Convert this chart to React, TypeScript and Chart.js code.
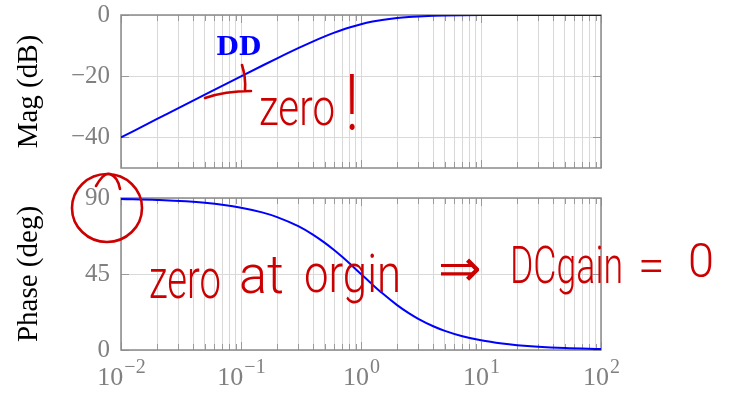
import React, { useEffect, useRef } from 'react';
import { Chart, registerables } from 'chart.js';

Chart.register(...registerables);

// ---- data ----
const freq = [0.01, 0.02, 0.05, 0.1, 0.15, 0.2, 0.3, 0.4, 0.5, 0.6, 0.7, 0.8, 1, 1.25, 1.5, 2, 2.5, 3, 4, 5, 7, 10, 15, 20, 30, 50, 100];
const magDb = [-40.0, -33.98, -26.03, -20.04, -16.58, -14.15, -10.83, -8.6, -6.99, -5.77, -4.83, -4.09, -3.01, -2.15, -1.6, -0.97, -0.64, -0.46, -0.26, -0.17, -0.09, -0.04, -0.02, -0.01, -0.005, -0.002, 0.0];
const phaseDeg = [89.43, 88.85, 87.14, 84.29, 81.47, 78.69, 73.3, 68.2, 63.43, 59.04, 55.01, 51.34, 45.0, 38.66, 33.69, 26.57, 21.8, 18.43, 14.04, 11.31, 8.13, 5.71, 3.81, 2.86, 1.91, 1.15, 0.57];
const magTicks = [-40, -20, 0];
const phaseTicks = [0, 45, 90];
const decades = [0.01, 0.1, 1, 10, 100];
const decadeExponents = ['−2', '−1', '0', '1', '2'];
const minorMultipliers = [1, 2, 3, 4, 5, 6, 7, 8, 9];
const seriesLabel = 'DD';
const magTitle = 'Mag (dB)';
const phaseTitle = 'Phase (deg)';
const noteTop = ['zero', '!'];
const noteBottom = ['zero', 'at', 'orgin', '⇒', 'DCgain', '=', '0'];

const W = 733;
const H = 393;
const PLOT_LEFT = 121;
const PLOT_RIGHT = 601;
const BLUE = '#0000ff';
const GRAY_TXT = '#808080';
const RED = '#cc0000';
const SERIF = "'Liberation Serif', serif";
const HAND = "Roboto, 'Noto Sans', sans-serif";

function buildXTicks(scale: any) {
  const ticks: any[] = [];
  for (let d = 0; d < decades.length - 1; d++) {
    for (const m of minorMultipliers) {
      ticks.push({ value: m * decades[d], major: m === 1 });
    }
  }
  ticks.push({ value: decades[decades.length - 1], major: true });
  scale.ticks = ticks;
}

const framePlugin = {
  id: 'frame',
  beforeDatasetsDraw(chart: any) {
    const { ctx, chartArea: a, scales } = chart;
    const xs = scales.x;
    const ys = scales.y;
    ctx.save();
    ctx.strokeStyle = '#9a9a9a';
    ctx.lineWidth = 1;
    ctx.beginPath();
    xs.ticks.forEach((t: any) => {
      const px = Math.round(xs.getPixelForValue(t.value)) + 0.5;
      const L = t.major ? 8 : 6;
      ctx.moveTo(px, a.top);
      ctx.lineTo(px, a.top + L);
      ctx.moveTo(px, a.bottom);
      ctx.lineTo(px, a.bottom - L);
    });
    ys.ticks.forEach((t: any) => {
      const py = Math.round(ys.getPixelForValue(t.value)) + 0.5;
      ctx.moveTo(a.left, py);
      ctx.lineTo(a.left + 8, py);
      ctx.moveTo(a.right, py);
      ctx.lineTo(a.right - 8, py);
    });
    ctx.stroke();
    ctx.strokeStyle = '#8a8a8a';
    ctx.lineWidth = 1.5;
    ctx.strokeRect(a.left, a.top, a.right - a.left, a.bottom - a.top);
    ctx.restore();
  },
};

const xLabelPlugin = {
  id: 'xlabels',
  afterDraw(chart: any) {
    const { ctx, scales } = chart;
    const xs = scales.x;
    ctx.save();
    ctx.fillStyle = GRAY_TXT;
    ctx.textBaseline = 'alphabetic';
    ctx.textAlign = 'left';
    decades.forEach((d, i) => {
      const px = xs.getPixelForValue(d);
      ctx.font = `26px ${SERIF}`;
      const w1 = ctx.measureText('10').width;
      ctx.font = `20px ${SERIF}`;
      const w2 = ctx.measureText(decadeExponents[i]).width;
      const x0 = px - (w1 + w2) / 2;
      ctx.font = `26px ${SERIF}`;
      ctx.fillText('10', x0, 385);
      ctx.font = `20px ${SERIF}`;
      ctx.fillText(decadeExponents[i], x0 + w1 + 1, 373);
    });
    ctx.restore();
  },
};

const labelPlugin = {
  id: 'seriesLabel',
  afterDraw(chart: any) {
    const { ctx } = chart;
    ctx.save();
    ctx.fillStyle = BLUE;
    ctx.font = `bold 26px 'DejaVu Serif', serif`;
    ctx.textBaseline = 'alphabetic';
    ctx.fillText(seriesLabel, 216, 55, 50);
    ctx.restore();
  },
};

function hand(ctx: CanvasRenderingContext2D, text: string, x: number, y: number, size: number, maxW: number, family = HAND) {
  ctx.font = `300 ${size}px ${family}`;
  ctx.fillText(text, x, y, maxW);
}

const notesPlugin = {
  id: 'notes',
  afterDraw(chart: any) {
    const { ctx } = chart;
    ctx.save();
    ctx.fillStyle = RED;
    ctx.strokeStyle = RED;
    ctx.lineWidth = 2.6;
    ctx.lineCap = 'round';
    ctx.lineJoin = 'round';
    ctx.textAlign = 'left';
    ctx.textBaseline = 'alphabetic';
    // top note
    hand(ctx, noteTop[0], 259, 125, 52, 76);
    hand(ctx, noteTop[1], 345, 130, 78, 14);
    // arrow stroke
    ctx.beginPath();
    ctx.moveTo(242, 65);
    ctx.quadraticCurveTo(246, 78, 245, 90);
    ctx.moveTo(205, 98);
    ctx.quadraticCurveTo(225, 91, 251, 91);
    ctx.stroke();
    // circle round 90
    ctx.beginPath();
    ctx.ellipse(107, 208, 35, 34, 0, 0, Math.PI * 2);
    ctx.stroke();
    ctx.beginPath();
    ctx.moveTo(96, 186);
    ctx.quadraticCurveTo(104, 172, 110, 174);
    ctx.quadraticCurveTo(118, 177, 120, 189);
    ctx.stroke();
    // bottom note
    hand(ctx, noteBottom[0], 149, 298, 56, 72);
    hand(ctx, noteBottom[1], 239, 293, 54, 45);
    hand(ctx, noteBottom[2], 304, 292, 54, 97);
    ctx.textBaseline = 'middle';
    hand(ctx, noteBottom[3], 438, 272, 52, 54, "'DejaVu Sans', sans-serif");
    ctx.textBaseline = 'alphabetic';
    hand(ctx, noteBottom[4], 510, 283, 52, 113);
    ctx.textBaseline = 'middle';
    hand(ctx, noteBottom[5], 638, 270, 48, 30);
    ctx.textBaseline = 'alphabetic';
    hand(ctx, noteBottom[6], 688, 277, 48, 26);
    ctx.restore();
  },
};

function makeConfig(values: number[], yMin: number, yMax: number, yTicks: number[], title: string, top: number, bottom: number, extraPlugins: any[], xHeight: number) {
  return {
    type: 'line' as const,
    data: {
      datasets: [
        {
          label: seriesLabel,
          data: freq.map((f, i) => ({ x: f, y: values[i] })),
          borderColor: BLUE,
          borderWidth: 2,
          pointRadius: 0,
          fill: false,
          cubicInterpolationMode: 'monotone' as const,
        },
      ],
    },
    options: {
      animation: false as const,
      responsive: false,
      devicePixelRatio: 1,
      layout: { padding: { left: 0, right: W - PLOT_RIGHT, top, bottom } },
      plugins: { legend: { display: false }, tooltip: { enabled: false } },
      scales: {
        x: {
          type: 'logarithmic' as const,
          min: 0.01,
          max: 100,
          afterBuildTicks: buildXTicks,
          afterFit: (s: any) => {
            s.height = xHeight;
            s.paddingLeft = 0;
            s.paddingRight = 0;
            s.paddingTop = 0;
            s.paddingBottom = 0;
          },
          ticks: { display: false, autoSkip: false },
          grid: { color: '#d9d9d9', lineWidth: 1, drawTicks: false },
          border: { display: false },
        },
        y: {
          type: 'linear' as const,
          min: yMin,
          max: yMax,
          afterBuildTicks: (s: any) => {
            s.ticks = yTicks.map((v) => ({ value: v }));
          },
          afterFit: (s: any) => {
            s.width = PLOT_LEFT;
            s.paddingTop = 0;
            s.paddingBottom = 0;
            s.paddingLeft = 0;
            s.paddingRight = 0;
          },
          ticks: {
            color: GRAY_TXT,
            font: { family: 'Liberation Serif', size: 25 },
            padding: 11,
            callback: (v: any) => (v < 0 ? '−' + Math.abs(v) : String(v)),
          },
          title: {
            display: true,
            text: title,
            color: '#000',
            font: { family: 'Liberation Serif', size: 29 },
            padding: { top: 12, bottom: 0 },
          },
          grid: { color: '#d9d9d9', lineWidth: 1, drawTicks: false },
          border: { display: false },
        },
      },
    },
    plugins: [framePlugin, ...extraPlugins],
  };
}

export default function App() {
  const magRef = useRef<HTMLCanvasElement>(null);
  const phaseRef = useRef<HTMLCanvasElement>(null);

  useEffect(() => {
    const c1 = new Chart(
      magRef.current as HTMLCanvasElement,
      makeConfig(magDb, -50, 0, magTicks, magTitle, 15, H - 168, [labelPlugin], 0) as any
    );
    const c2 = new Chart(
      phaseRef.current as HTMLCanvasElement,
      makeConfig(phaseDeg, 0, 90, phaseTicks, phaseTitle, 198, 0, [xLabelPlugin, notesPlugin], H - 350) as any
    );
    return () => {
      c1.destroy();
      c2.destroy();
    };
  }, []);

  return (
    <div style={{ position: 'fixed', left: 0, top: 0, width: W, height: H, background: '#fff' }}>
      <canvas ref={magRef} width={W} height={H} style={{ position: 'absolute', left: 0, top: 0 }} />
      <canvas ref={phaseRef} width={W} height={H} style={{ position: 'absolute', left: 0, top: 0 }} />
    </div>
  );
}
